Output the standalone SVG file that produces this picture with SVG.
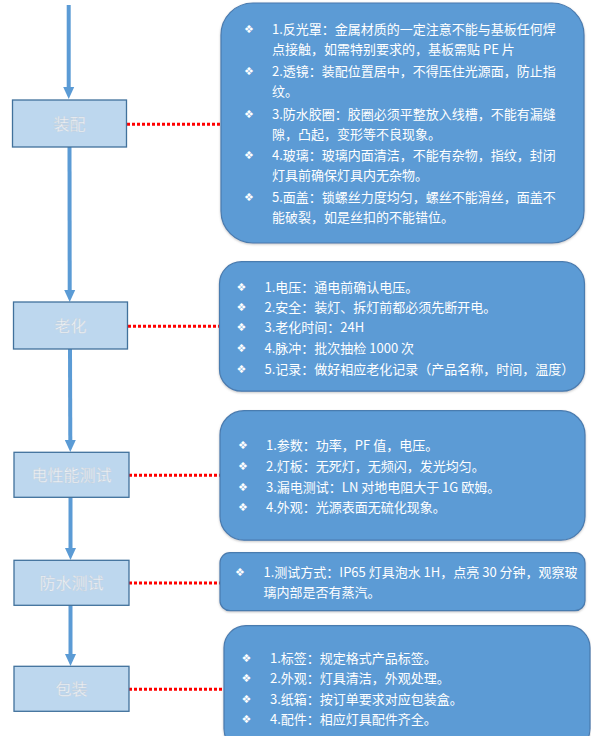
<svg xmlns="http://www.w3.org/2000/svg" width="591" height="736" viewBox="0 0 591 736">
<style>
.node rect{fill:#BDD7EE;stroke:#41719C;stroke-width:1.3}
.node text{font-family:"Noto Sans CJK SC","Noto Sans",sans-serif;font-size:16px;fill:#EEF2F6;stroke:#C3CCD6;stroke-width:0.3;text-anchor:middle}
.box rect{fill:#5B9BD5;stroke:#4A7BAF;stroke-width:1.2}
.box text{font-family:"Noto Sans CJK SC","Noto Sans",sans-serif;font-size:13px;fill:#FFFFFF}
.box .b{font-family:"DejaVu Sans",sans-serif;font-size:11px;fill:#FFFFFF}
.flow{stroke:#5B9BD5;stroke-width:4;fill:none}
.dot{stroke:#FF0000;stroke-width:3;stroke-dasharray:3 2;fill:none}
</style>
<defs>
<filter id="sh" x="-5%" y="-5%" width="110%" height="110%">
<feDropShadow dx="0" dy="1" stdDeviation="1.2" flood-color="#808080" flood-opacity="0.45"/>
</filter>
</defs>
<rect width="591" height="736" fill="#FFFFFF"/>
<g id="connectors">
<line class="flow" x1="68.7" y1="5" x2="68.7" y2="87"/>
<path d="M63.2,87 L74.2,87 L68.7,99 Z" fill="#5B9BD5"/>
<line class="flow" x1="69.5" y1="147" x2="69.7" y2="290"/>
<path d="M64.2,290 L75.2,290 L69.7,302 Z" fill="#5B9BD5"/>
<line class="flow" x1="70" y1="349" x2="70.3" y2="440"/>
<path d="M64.8,440 L75.8,440 L70.3,452 Z" fill="#5B9BD5"/>
<line class="flow" x1="70.5" y1="497" x2="70.5" y2="548"/>
<path d="M65,548 L76,548 L70.5,560 Z" fill="#5B9BD5"/>
<line class="flow" x1="70.5" y1="605" x2="70.5" y2="654"/>
<path d="M65,654 L76,654 L70.5,666 Z" fill="#5B9BD5"/>
<line class="dot" x1="127" y1="124.3" x2="221" y2="124.3"/>
<line class="dot" x1="128" y1="326.3" x2="220" y2="326.3"/>
<line class="dot" x1="129" y1="475.3" x2="220" y2="475.3"/>
<line class="dot" x1="129" y1="583" x2="220" y2="583"/>
<line class="dot" x1="129" y1="689.3" x2="224" y2="689.3"/>
</g>
<g id="n1" class="node"><rect x="12.5" y="100" width="114" height="47"/><text x="69.5" y="129.5">装配</text></g>
<g id="n2" class="node"><rect x="13.5" y="302" width="114" height="47"/><text x="70.5" y="331.5">老化</text></g>
<g id="n3" class="node"><rect x="14" y="452.3" width="115" height="45"/><text x="71.5" y="480.5">电性能测试</text></g>
<g id="n4" class="node"><rect x="14" y="560.3" width="115" height="45"/><text x="71.5" y="588.5">防水测试</text></g>
<g id="n5" class="node"><rect x="14" y="666.3" width="115" height="45"/><text x="71.5" y="694.5">包装</text></g>
<g id="b1" class="box">
<rect x="221" y="3" width="363" height="240" rx="32" ry="32" filter="url(#sh)"/>
<text class="b" x="244" y="33">❖</text>
<text x="272" y="34">1.反光罩：金属材质的一定注意不能与基板任何焊</text>
<text x="272" y="54">点接触，如需特别要求的，基板需贴 PE 片</text>
<text class="b" x="244" y="75">❖</text>
<text x="272" y="76">2.透镜：装配位置居中，不得压住光源面，防止指</text>
<text x="272" y="96">纹。</text>
<text class="b" x="244" y="118">❖</text>
<text x="272" y="119">3.防水胶圈：胶圈必须平整放入线槽，不能有漏缝</text>
<text x="272" y="139">隙，凸起，变形等不良现象。</text>
<text class="b" x="244" y="159">❖</text>
<text x="272" y="160">4.玻璃：玻璃内面清洁，不能有杂物，指纹，封闭</text>
<text x="272" y="180">灯具前确保灯具内无杂物。</text>
<text class="b" x="244" y="201">❖</text>
<text x="272" y="202">5.面盖：锁螺丝力度均匀，螺丝不能滑丝，面盖不</text>
<text x="272" y="222">能破裂，如是丝扣的不能错位。</text>
</g>
<g id="b2" class="box">
<rect x="219.5" y="261.7" width="365" height="129.5" rx="22" ry="22" filter="url(#sh)"/>
<text class="b" x="236.5" y="290.5">❖</text>
<text x="264.5" y="291.5">1.电压：通电前确认电压。</text>
<text class="b" x="236.5" y="310.5">❖</text>
<text x="264.5" y="311.5">2.安全：装灯、拆灯前都必须先断开电。</text>
<text class="b" x="236.5" y="331">❖</text>
<text x="264.5" y="332">3.老化时间：24H</text>
<text class="b" x="236.5" y="351.5">❖</text>
<text x="264.5" y="352.5">4.脉冲：批次抽检  1000 次</text>
<text class="b" x="236.5" y="372.5">❖</text>
<text x="264.5" y="373.5">5.记录：做好相应老化记录（产品名称，时间，温度）</text>
</g>
<g id="b3" class="box">
<rect x="220" y="410.7" width="365" height="129.5" rx="24" ry="24" filter="url(#sh)"/>
<text class="b" x="238" y="449">❖</text>
<text x="266" y="450">1.参数：功率，PF 值，电压。</text>
<text class="b" x="238" y="470">❖</text>
<text x="266" y="471">2.灯板：无死灯，无频闪，发光均匀。</text>
<text class="b" x="238" y="490.5">❖</text>
<text x="266" y="491.5">3.漏电测试：LN 对地电阻大于 1G 欧姆。</text>
<text class="b" x="238" y="510.5">❖</text>
<text x="266" y="511.5">4.外观：光源表面无硫化现象。</text>
</g>
<g id="b4" class="box">
<rect x="220" y="552.7" width="365" height="58" rx="10" ry="10" filter="url(#sh)"/>
<text class="b" x="235" y="575.5">❖</text>
<text x="263.5" y="576.5">1.测试方式：IP65 灯具泡水 1H，点亮 30 分钟，观察玻</text>
<text x="263.5" y="597">璃内部是否有蒸汽。</text>
</g>
<g id="b5" class="box">
<rect x="224" y="625.7" width="366" height="125" rx="22" ry="22" filter="url(#sh)"/>
<text class="b" x="241.5" y="661.5">❖</text>
<text x="270" y="662.5">1.标签：规定格式产品标签。</text>
<text class="b" x="241.5" y="682">❖</text>
<text x="270" y="683">2.外观：灯具清洁，外观处理。</text>
<text class="b" x="241.5" y="703">❖</text>
<text x="270" y="704">3.纸箱：按订单要求对应包装盒。</text>
<text class="b" x="241.5" y="723">❖</text>
<text x="270" y="724">4.配件：相应灯具配件齐全。</text>
</g>
</svg>
